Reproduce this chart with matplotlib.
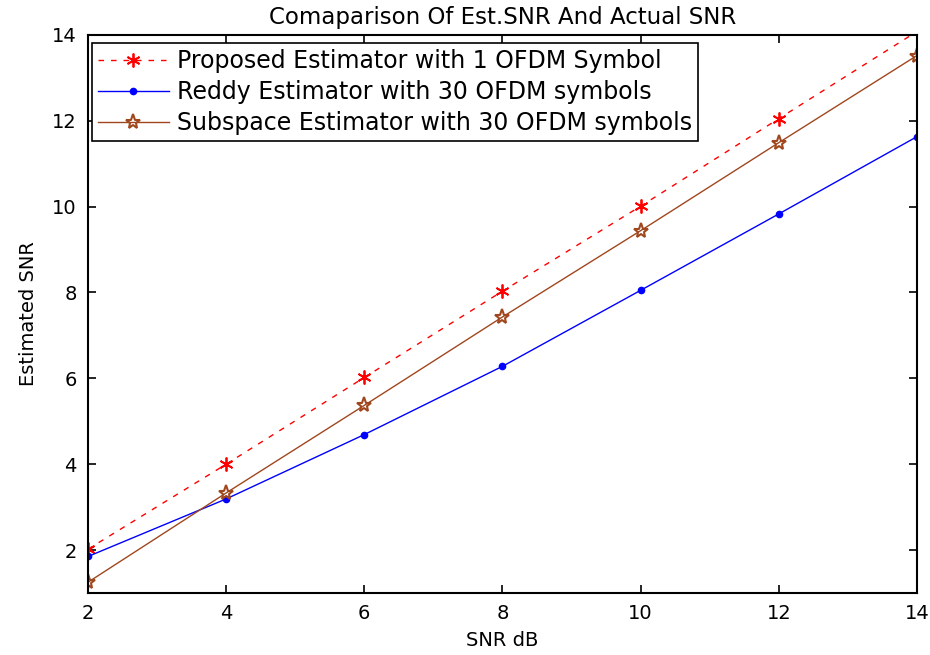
import matplotlib
matplotlib.use('Agg')
import matplotlib.pyplot as plt

plt.rcParams['font.family'] = ['DejaVu Sans']

# Data
snr_db = [2, 4, 6, 8, 10, 12, 14]
proposed = [2.02, 4.00, 6.02, 8.03, 10.01, 12.05, 14.08]
reddy = [1.85, 3.19, 4.69, 6.28, 8.05, 9.83, 11.63]
subspace = [1.25, 3.33, 5.37, 7.43, 9.44, 11.49, 13.52]

labels = ['Proposed Estimator with 1 OFDM Symbol',
          'Reddy Estimator with 30 OFDM symbols',
          'Subspace Estimator with 30 OFDM symbols']

brown = '#A0471E'

fig = plt.figure(figsize=(9.3, 6.55), dpi=100)
ax = fig.add_axes([0.0946, 0.0947, 0.8914, 0.852])

ax.plot(snr_db, proposed, color='red', linestyle=(0, (4, 5)), linewidth=1.0,
        marker=(6, 2, 0), markersize=10, markeredgewidth=1.3, label=labels[0])
ax.plot(snr_db, reddy, color='blue', linestyle='-', linewidth=1.0,
        marker='o', markersize=4.5, label=labels[1])
ax.plot(snr_db, subspace, color=brown, linestyle='-', linewidth=1.0,
        marker='*', markersize=11, markerfacecolor='none', markeredgewidth=1.5,
        label=labels[2])

ax.set_xlim(2, 14)
ax.set_ylim(1, 14)
ax.set_xticks([2, 4, 6, 8, 10, 12, 14])
ax.set_yticks([2, 4, 6, 8, 10, 12, 14])
ax.tick_params(direction='in', top=True, right=True, length=6, width=1.2,
               labelsize=14, pad=8)
for s in ax.spines.values():
    s.set_linewidth(1.5)

ax.set_title('Comaparison Of Est.SNR And Actual SNR', fontsize=16.5, pad=8)
ax.set_xlabel('SNR dB', fontsize=14, labelpad=6)
ax.set_ylabel('Estimated SNR', fontsize=14, labelpad=10)

leg = ax.legend(loc='upper left', bbox_to_anchor=(4 / 829, 1 - 8 / 558),
                borderaxespad=0, fontsize=17, frameon=True, fancybox=False,
                edgecolor='black', handlelength=3.0, handletextpad=0.35,
                labelspacing=0.3, borderpad=0.25, framealpha=1)
leg.get_frame().set_linewidth(1.2)

fig.savefig('out.png', dpi=100)
